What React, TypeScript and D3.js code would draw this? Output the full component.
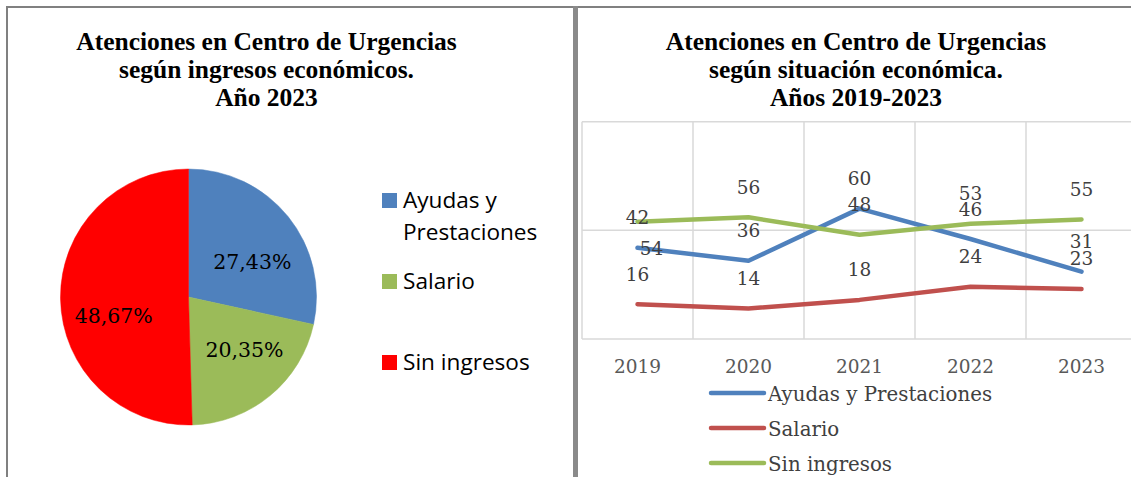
import React from 'react';
import * as d3 from 'd3';

// Pie: Año 2023
const pieCategories = ['Ayudas y Prestaciones', 'Salario', 'Sin ingresos'];
const piePercents = [27.43, 20.35, 48.67];
const pieColors = ['#4F81BD', '#9BBB59', '#FF0000'];

// Lines: 2019-2023
const years = ['2019', '2020', '2021', '2022', '2023'];
const ayudas = [42, 36, 60, 46, 31];
const salario = [16, 14, 18, 24, 23];
const sinIngresos = [54, 56, 48, 53, 55];
const lineNames = ['Ayudas y Prestaciones', 'Salario', 'Sin ingresos'];
const lineColors = ['#4F81BD', '#C0504D', '#9BBB59'];

const leftTitle = ['Atenciones en Centro de Urgencias', 'según ingresos económicos.', 'Año 2023'];
const rightTitle = ['Atenciones en Centro de Urgencias', 'según situación económica.', 'Años 2019-2023'];

// labels that were dragged by hand in the original sheet
const pieLabelNudge = [[4, 13], [7, -6], [2, 18]];
const lineLabelNudge = { 'Sin ingresos-0': [14, 57] };

const W = 1131;
const H = 477;
const serif = '"DejaVu Serif", serif';
const titleFont = '"Liberation Serif", serif';

const es = d3.formatLocale({ decimal: ',', thousands: '.', grouping: [3], currency: ['', '€'] });
const fmtPct = (v: number) => es.format('.2f')(v) + '%';

function Title({ lines, cx }: { lines: string[]; cx: number }) {
  return (
    <g>
      {lines.map((t, i) => (
        <text key={i} x={cx} y={50 + i * 28} textAnchor="middle"
          fontFamily={titleFont} fontWeight="bold" fontSize={25.5} fill="#000">{t}</text>
      ))}
    </g>
  );
}

function PieChart() {
  const cx = 188.5;
  const cy = 297;
  const r = 128;
  const arcs = d3.pie<number>().sort(null)(piePercents);
  const arc = d3.arc<d3.PieArcDatum<number>>().innerRadius(0).outerRadius(r);
  const labelArc = d3.arc<d3.PieArcDatum<number>>().innerRadius(r * 0.6).outerRadius(r * 0.6);

  return (
    <g>
      <g transform={`translate(${cx},${cy})`}>
        {arcs.map((a, i) => (
          <path key={i} d={arc(a) || ''} fill={pieColors[i]} stroke={pieColors[i]} strokeWidth={0.5} />
        ))}
        {arcs.map((a, i) => {
          const [x, y] = labelArc.centroid(a);
          return (
            <text key={i} x={x + pieLabelNudge[i][0]} y={y + pieLabelNudge[i][1]} dy="0.35em"
              textAnchor="middle" fontFamily={serif} fontSize={20.5} fill="#000">
              {fmtPct(a.data)}
            </text>
          );
        })}
      </g>
      {/* legend */}
      <g fontFamily='"Open Sans", sans-serif' fontSize={22.6} fill="#000">
        <rect x={382} y={193} width={15} height={15} fill={pieColors[0]} />
        <text x={403} y={208}>Ayudas y</text>
        <text x={403} y={240}>Prestaciones</text>
        <rect x={382} y={274} width={15} height={15} fill={pieColors[1]} />
        <text x={403} y={289}>{pieCategories[1]}</text>
        <rect x={382} y={355} width={15} height={15} fill={pieColors[2]} />
        <text x={403} y={370}>{pieCategories[2]}</text>
      </g>
    </g>
  );
}

function LineChart() {
  const left = 582;
  const right = 1137;
  const top = 121.7;
  const bottom = 339;

  const x = d3.scaleBand<string>().domain(years).range([left, right]).padding(0);
  const y = d3.scaleLinear().domain([0, 100]).range([bottom, top]);
  const cxOf = (yr: string) => (x(yr) as number) + x.bandwidth() / 2;

  const series = [ayudas, salario, sinIngresos].map((vals, i) => ({
    name: lineNames[i],
    color: lineColors[i],
    values: vals,
  }));

  const line = d3.line<number>()
    .x((_, i) => cxOf(years[i]))
    .y((d) => y(d));

  const vGrid = years.map((yr) => x(yr) as number).concat([right]);

  return (
    <g>
      {/* grid */}
      <g stroke="#D9D9D9" strokeWidth={1.5}>
        {y.ticks(2).map((t) => (
          <line key={t} x1={left} x2={right} y1={y(t)} y2={y(t)} />
        ))}
        {vGrid.map((gx, i) => (
          <line key={i} x1={gx} x2={gx} y1={top} y2={bottom} />
        ))}
      </g>

      {/* lines */}
      {series.map((s) => (
        <path key={s.name} d={line(s.values) || ''} fill="none" stroke={s.color}
          strokeWidth={4.5} strokeLinecap="round" strokeLinejoin="round" />
      ))}

      {/* data labels */}
      <g fontFamily={serif} fontSize={18.5} fill="#404040" textAnchor="middle">
        {series.map((s) =>
          s.values.map((v, i) => {
            const n = (lineLabelNudge as Record<string, number[]>)[`${s.name}-${i}`];
            const lx = cxOf(years[i]) + (n ? n[0] : 0);
            const ly = y(v) - 30 + (n ? n[1] : 0);
            return (
              <text key={s.name + i} x={lx} y={ly} dy="0.35em">{v}</text>
            );
          })
        )}
      </g>

      {/* x axis */}
      <g fontFamily={serif} fontSize={18.5} fill="#595959" textAnchor="middle">
        {years.map((yr) => (
          <text key={yr} x={cxOf(yr)} y={373}>{yr}</text>
        ))}
      </g>

      {/* legend */}
      <g fontFamily={serif} fontSize={19.8} fill="#404040">
        {series.map((s, i) => {
          const ly = 393 + i * 35;
          return (
            <g key={s.name}>
              <line x1={711} x2={764} y1={ly} y2={ly} stroke={s.color} strokeWidth={4.5} strokeLinecap="round" />
              <text x={768} y={ly + 7.5}>{s.name}</text>
            </g>
          );
        })}
      </g>
    </g>
  );
}

export default function App() {
  return (
    <svg width={W} height={H} style={{ position: 'absolute', left: 0, top: 0, background: '#fff' }}>
      <rect x={0} y={0} width={W} height={H} fill="#fff" />
      <Title lines={leftTitle} cx={266.5} />
      <Title lines={rightTitle} cx={856} />
      <PieChart />
      <LineChart />
      {/* panel frames */}
      <line x1={6} x2={W} y1={7} y2={7} stroke="#808080" strokeWidth={2} />
      <line x1={7} x2={7} y1={6} y2={H} stroke="#808080" strokeWidth={2} />
      <rect x={573} y={6} width={5} height={H - 6} fill="#8a8a8a" />
    </svg>
  );
}
